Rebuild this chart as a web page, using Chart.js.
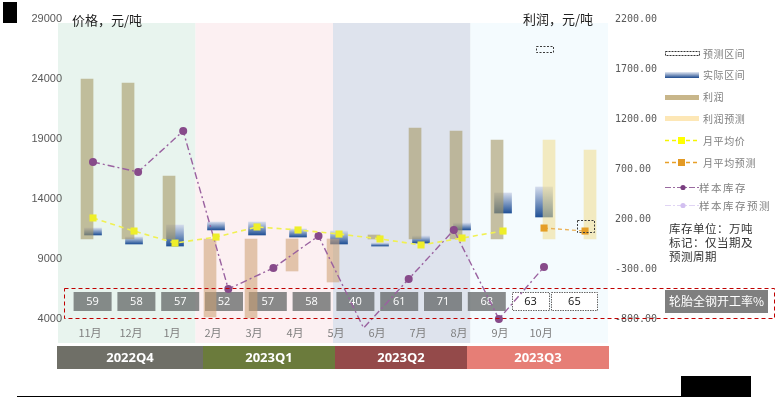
<!DOCTYPE html>
<html lang="zh">
<head>
<meta charset="utf-8">
<script src="https://cdn.jsdelivr.net/npm/chart.js@4.4.1/dist/chart.umd.min.js"></script>
<style>
  html, body { margin: 0; padding: 0; background: #fff; }
  #c { display: block; }
</style>
</head>
<body>
<canvas id="c" width="780" height="406"></canvas>
<script>
// 月份（最后一格为预测月，不显示标签）
const months = ['11月', '12月', '1月', '2月', '3月', '4月', '5月', '6月', '7月', '8月', '9月', '10月', ''];
// 价格区间（元/吨）
const rangeLow  = [11000, 10250, 10080, 11420, 11000, 10830, 10250, 10080, 10330, 11420, 12830, 12500, null];
const rangeHigh = [11580, 10830, 11830, 12080, 12080, 11500, 11330, 10330, 10920, 12000, 14500, 15000, null];
const fcRangeLow  = [null, null, null, null, null, null, null, null, null, null, null, 26250, 11250];
const fcRangeHigh = [null, null, null, null, null, null, null, null, null, null, null, 26750, 12250];
// 利润（元/吨）
const profit   = [1600, 1560, 630, -780, -790, -320, -430, 40, 1110, 1080, 990, null, null];
const profitFc = [null, null, null, null, null, null, null, null, null, null, null, 990, 890];
// 月平均价
const avgPrice   = [12420, 11330, 10330, 10830, 11670, 11420, 11080, 10670, 10170, 10750, 11330, null, null];
const avgPriceFc = [null, null, null, null, null, null, null, null, null, null, null, 11580, 11330];
// 样本库存（万吨）
const stock = [25.7, 24.7, 28.8, 13.0, 15.1, 18.3, 9.1, 14.0, 18.9, 10.0, 15.2];
// 轮胎全钢开工率%
const rateValues = [59, 58, 57, 52, 57, 58, 40, 61, 71, 68, 63, 65];
const rateForecastFrom = 10;
const quarters = ['2022Q4', '2023Q1', '2023Q2', '2023Q3'];
const priceTicks = [4000, 9000, 14000, 19000, 24000, 29000];
const profitTicks = [-800, -300, 200, 700, 1200, 1700, 2200];

// styles
const quarterBg = ['#e8f4ee', '#fcf0f2', '#dee3ed', '#f4fbfe'];
const quarterCells = [[57, 146, '#6f6f67'], [203, 132, '#6b7b3c'], [335, 132, '#944a4a'], [467, 142, '#e67e76']];
const CJK = '"Noto Sans CJK SC", sans-serif';

const pts = arr => arr.map((v, i) => v == null ? null : { x: i, y: v }).filter(Boolean);
const ranges = (lo, hi) => lo.map((v, i) => v == null ? null : { x: i, y: [v, hi[i]] }).filter(Boolean);

function blueGrad(c) {
  const chart = c.chart;
  if (!chart.chartArea || c.type !== 'data') return '#3a64a0';
  const ys = chart.scales.y;
  const top = ys.getPixelForValue(c.raw.y[1]);
  const bot = ys.getPixelForValue(c.raw.y[0]);
  const g = chart.ctx.createLinearGradient(0, top, 0, bot);
  g.addColorStop(0, 'rgba(208,216,234,0.92)');
  g.addColorStop(1, 'rgba(24,74,146,0.96)');
  return g;
}

// 不显示的辅助横轴：放在顶部、高度为 0
function ghostX(min, max) {
  return {
    type: 'linear', position: 'top', min, max, offset: false,
    grid: { display: false, drawTicks: false },
    border: { display: false },
    ticks: { display: false },
    afterFit: s => { s.height = 0; }
  };
}

const deco = {
  id: 'deco',
  beforeDraw(chart) {
    const { ctx, chartArea: a } = chart;
    const w = (a.right - a.left) / 4;
    ctx.save();
    quarterBg.forEach((c, i) => {
      ctx.fillStyle = c;
      ctx.fillRect(a.left + i * w, a.top + 4, w, a.bottom - a.top + 20);
    });
    // 左轴刻度（Excel 式：标签略伸入绘图区）
    const ys = chart.scales.y;
    ctx.fillStyle = '#595959';
    ctx.font = '11px "Liberation Sans", Arial, sans-serif';
    ctx.textAlign = 'right';
    ctx.textBaseline = 'middle';
    priceTicks.forEach(t => ctx.fillText(String(t), a.left + 4, ys.getPixelForValue(t)));

    // 开工率格子
    const xr = chart.scales.xr;
    ctx.font = '11px "Open Sans", sans-serif';
    ctx.textAlign = 'center';
    rateValues.forEach((v, i) => {
      const cx = xr.getPixelForValue(i);
      const bw = i === rateValues.length - 1 ? 47 : 38;
      const top = a.bottom - 27, h = 19;
      if (i >= rateForecastFrom) {
        ctx.fillStyle = '#fff';
        ctx.fillRect(cx - bw / 2, top, bw, h);
        ctx.setLineDash([1.5, 1]);
        ctx.strokeStyle = '#666';
        ctx.lineWidth = 1;
        ctx.strokeRect(Math.round(cx - bw / 2) + 0.5, top + 0.5, bw - 1, h - 1);
        ctx.setLineDash([]);
        ctx.fillStyle = '#111';
      } else {
        ctx.fillStyle = 'rgba(100,104,104,0.76)';
        ctx.fillRect(cx - bw / 2, top, bw, h);
        ctx.fillStyle = '#fff';
      }
      ctx.fillText(String(v), cx, top + h / 2 + 0.5);
    });
    ctx.restore();
  },
  afterDatasetsDraw(chart) {
    const ctx = chart.ctx;
    const meta = chart.getDatasetMeta(1);
    ctx.save();
    ctx.strokeStyle = '#3a3a3a';
    ctx.lineWidth = 1;
    ctx.setLineDash([2, 1.5]);
    meta.data.forEach(el => {
      const { x, y, base, width } = el.getProps(['x', 'y', 'base', 'width'], true);
      const t = Math.min(y, base), h = Math.abs(base - y);
      ctx.strokeRect(Math.round(x - width / 2) + 0.5, Math.round(t) + 0.5, Math.round(width), Math.round(h));
    });
    ctx.restore();
  },
  afterDraw(chart) {
    const ctx = chart.ctx;
    ctx.save();
    // 标题
    ctx.fillStyle = '#222';
    ctx.font = '13px ' + CJK;
    ctx.textAlign = 'left';
    ctx.textBaseline = 'middle';
    ctx.fillText('价格，元/吨', 72, 20);
    ctx.fillText('利润，元/吨', 523, 19);

    // 红色虚线框 + 标签
    ctx.strokeStyle = '#c00000';
    ctx.lineWidth = 1;
    ctx.setLineDash([4, 3]);
    ctx.strokeRect(64.5, 288.5, 710, 30);
    ctx.setLineDash([]);
    ctx.fillStyle = '#7f7f7f';
    ctx.fillRect(665, 290, 103, 23);
    ctx.fillStyle = '#fff';
    ctx.font = '12px ' + CJK;
    ctx.textAlign = 'center';
    ctx.fillText('轮胎全钢开工率%', 716.5, 301.5);

    // 季度条
    ctx.font = 'bold 13px "Open Sans", sans-serif';
    quarterCells.forEach(([x, w, c], i) => {
      ctx.fillStyle = c;
      ctx.fillRect(x, 346, w, 23);
      ctx.fillStyle = '#fff';
      ctx.fillText(quarters[i], x + w / 2, 358);
    });

    // 图例
    const lx = 665, lw = 34;
    ctx.textAlign = 'left';
    const label = (t, x, y, size, sp) => {
      ctx.fillStyle = '#7f7f7f';
      ctx.font = size + 'px ' + CJK;
      ctx.letterSpacing = sp;
      ctx.fillText(t, x, y);
      ctx.letterSpacing = '0px';
    };
    ctx.strokeStyle = '#333';
    ctx.setLineDash([2, 1]);
    ctx.strokeRect(lx + 0.5, 51.5, lw, 4);
    ctx.setLineDash([]);
    label('预测区间', 703, 54, 10, '0.6px');

    const g = ctx.createLinearGradient(0, 72, 0, 78);
    g.addColorStop(0, '#e4e9f3');
    g.addColorStop(1, '#1d4a8e');
    ctx.fillStyle = g;
    ctx.fillRect(lx, 72, lw, 6);
    label('实际区间', 703, 75, 10, '0.6px');

    ctx.fillStyle = '#c8b68a';
    ctx.fillRect(lx, 95, lw, 5);
    label('利润', 703, 97, 10, '0.6px');

    ctx.fillStyle = '#fde7b6';
    ctx.fillRect(lx, 116, lw, 5);
    label('利润预测', 703, 119, 10, '0.6px');

    const dashLine = (y, color, dash, w) => {
      ctx.strokeStyle = color;
      ctx.lineWidth = w;
      ctx.setLineDash(dash);
      ctx.beginPath();
      ctx.moveTo(lx, y);
      ctx.lineTo(lx + lw, y);
      ctx.stroke();
      ctx.setLineDash([]);
    };
    dashLine(140.5, '#f5f500', [4, 3], 1.5);
    ctx.fillStyle = '#ffff00';
    ctx.fillRect(678, 137, 7, 7);
    label('月平均价', 703, 141, 10, '0.6px');

    dashLine(162.5, '#e8a028', [4, 3], 1.5);
    ctx.fillStyle = '#e39a24';
    ctx.fillRect(678, 159, 7, 7);
    label('月平均预测', 703, 163, 10, '0.6px');

    dashLine(187.5, '#9a6aa0', [6, 2, 2, 2], 1.2);
    ctx.fillStyle = '#7a3f80';
    ctx.beginPath(); ctx.arc(683, 187.5, 2.6, 0, Math.PI * 2); ctx.fill();
    label('样本库存', 699, 188, 10.5, '1.5px');

    dashLine(205.5, '#e0d4f4', [6, 2, 2, 2], 1.2);
    ctx.fillStyle = '#d2bff0';
    ctx.beginPath(); ctx.arc(683, 205.5, 2.6, 0, Math.PI * 2); ctx.fill();
    label('样本库存预测', 699, 206, 10.5, '1.5px');

    ctx.fillStyle = '#333';
    ctx.font = '11.5px ' + CJK;
    ctx.letterSpacing = '0.5px';
    ctx.fillText('库存单位：万吨', 669, 229);
    ctx.fillText('标记：仅当期及', 669, 243);
    ctx.fillText('预测周期', 669, 257);
    ctx.letterSpacing = '0px';

    // 装饰
    ctx.fillStyle = '#000';
    ctx.fillRect(3, 2, 14, 21);
    ctx.fillRect(681, 376, 70, 21);
    ctx.fillRect(17, 396, 664, 1);
    ctx.restore();
  }
};

new Chart(document.getElementById('c').getContext('2d'), {
  type: 'bar',
  data: {
    datasets: [
      {
        label: '实际区间',
        data: ranges(rangeLow, rangeHigh),
        xAxisID: 'x', yAxisID: 'y',
        grouped: false,
        barThickness: 17,
        backgroundColor: blueGrad,
        borderWidth: 0,
        order: 3
      },
      {
        label: '预测区间',
        data: ranges(fcRangeLow, fcRangeHigh),
        xAxisID: 'x', yAxisID: 'y',
        grouped: false,
        barThickness: 17,
        backgroundColor: 'rgba(0,0,0,0)',
        borderWidth: 0,
        order: 3
      },
      {
        label: '利润',
        data: pts(profit),
        xAxisID: 'xb', yAxisID: 'y2',
        grouped: false,
        barThickness: 12,
        backgroundColor: c => (c.raw && c.raw.y < 0) ? 'rgba(205,160,115,0.56)' : 'rgba(165,152,100,0.6)',
        borderWidth: 0,
        order: 2
      },
      {
        label: '利润预测',
        data: pts(profitFc),
        xAxisID: 'xc', yAxisID: 'y2',
        grouped: false,
        barThickness: 12,
        backgroundColor: 'rgba(240,220,140,0.55)',
        borderWidth: 0,
        order: 2
      },
      {
        type: 'line',
        label: '样本库存',
        data: stock.map((v, i) => ({ x: i, y: v })),
        xAxisID: 'x2', yAxisID: 'y3',
        borderColor: '#9a62a0',
        borderWidth: 1.4,
        borderDash: [7, 3, 2, 3],
        pointRadius: 4,
        pointBackgroundColor: '#874a8a',
        pointBorderWidth: 0,
        tension: 0,
        clip: false,
        order: 1
      },
      {
        type: 'line',
        label: '月平均价',
        data: pts(avgPrice),
        xAxisID: 'x', yAxisID: 'y',
        borderColor: '#f0f052',
        borderWidth: 1.6,
        borderDash: [5, 4],
        pointStyle: 'rect',
        pointRadius: 5,
        pointBackgroundColor: '#eeee2a',
        pointBorderWidth: 0,
        tension: 0,
        order: 0
      },
      {
        type: 'line',
        label: '月平均预测',
        data: pts(avgPriceFc),
        xAxisID: 'x', yAxisID: 'y',
        borderColor: '#ebb258',
        borderWidth: 1.4,
        borderDash: [4, 3],
        pointStyle: 'rect',
        pointRadius: 5,
        pointBackgroundColor: '#e59e26',
        pointBorderWidth: 0,
        tension: 0,
        order: 0
      }
    ]
  },
  options: {
    responsive: false,
    animation: false,
    devicePixelRatio: 1,
    layout: { padding: { top: 19, left: 0, right: 0, bottom: 0 } },
    plugins: { legend: { display: false }, tooltip: { enabled: false } },
    scales: {
      x: {
        type: 'linear',
        min: -0.854, max: 12.56,
        offset: false,
        grid: { display: false, drawTicks: false },
        border: { display: false },
        ticks: {
          stepSize: 1,
          includeBounds: false,
          autoSkip: false,
          maxRotation: 0,
          padding: 7,
          labelOffset: -3,
          color: '#7f7f7f',
          font: { family: '"Noto Sans CJK SC", sans-serif', size: 11 },
          callback: v => months[v] ?? ''
        },
        afterFit: s => { s.height = 87; }
      },
      // 利润柱与预测柱在同一月份内左右错开（同 Excel 簇状柱）
      xb: ghostX(-0.708, 12.706),
      xc: ghostX(-0.976, 12.438),
      x2: ghostX(-0.776, 11.419),
      xr: ghostX(-0.79, 11.767),
      y: {
        type: 'linear',
        position: 'left',
        min: priceTicks[0], max: priceTicks[priceTicks.length - 1],
        grid: { display: false, drawTicks: false },
        border: { display: false },
        ticks: { display: false, stepSize: priceTicks[1] - priceTicks[0] },
        afterFit: s => { s.width = 58; }
      },
      y2: {
        type: 'linear',
        position: 'right',
        min: profitTicks[0], max: profitTicks[profitTicks.length - 1],
        grid: { display: false, drawTicks: false },
        border: { display: false },
        ticks: {
          stepSize: profitTicks[1] - profitTicks[0],
          padding: 7,
          color: '#595959',
          font: { family: '"DejaVu Sans Mono", monospace', size: 10 },
          callback: v => Number(v).toFixed(2)
        },
        afterFit: s => { s.width = 172; }
      },
      y3: { type: 'linear', display: false, min: 10, max: 40 }
    }
  },
  plugins: [deco]
});
</script>
</body>
</html>
